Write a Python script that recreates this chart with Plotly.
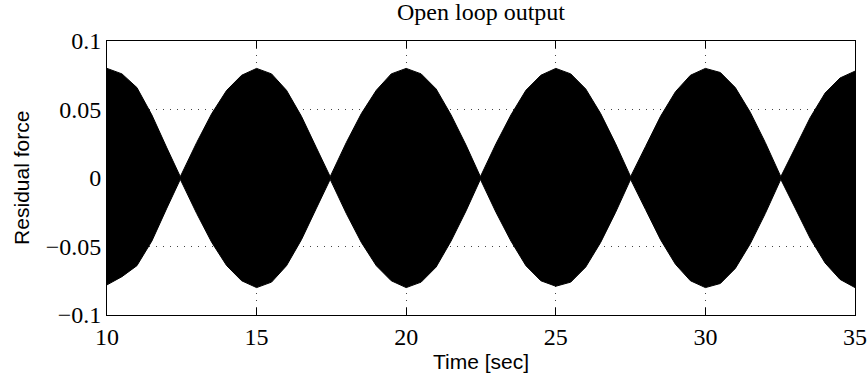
import plotly.graph_objects as go

# Envelope of the (dense) open-loop residual force signal
env_time = [10, 10.5, 11, 11.5, 12, 12.45, 13, 13.5, 14, 14.5,
            15, 15.5, 16, 16.5, 17, 17.46, 18, 18.5, 19, 19.5,
            20, 20.5, 21, 21.5, 22, 22.48, 23, 23.5, 24, 24.5,
            25, 25.5, 26, 26.5, 27, 27.5, 28, 28.5, 29, 29.5,
            30, 30.5, 31, 31.5, 32, 32.52, 33, 33.5, 34, 34.5, 35]
env_upper = [0.080, 0.076, 0.066, 0.046, 0.022, 0.001, 0.026, 0.047, 0.064, 0.075,
             0.080, 0.076, 0.064, 0.045, 0.022, 0.001, 0.026, 0.047, 0.064, 0.076,
             0.080, 0.076, 0.065, 0.046, 0.024, 0.001, 0.025, 0.046, 0.064, 0.075,
             0.080, 0.076, 0.065, 0.047, 0.025, 0.001, 0.023, 0.045, 0.063, 0.075,
             0.080, 0.077, 0.066, 0.048, 0.026, 0.001, 0.022, 0.044, 0.062, 0.073, 0.078]
env_lower = [-0.078, -0.072, -0.064, -0.046, -0.022, -0.001, -0.026, -0.047, -0.064, -0.075,
             -0.080, -0.076, -0.064, -0.045, -0.022, -0.001, -0.026, -0.047, -0.064, -0.075,
             -0.080, -0.076, -0.065, -0.046, -0.024, -0.001, -0.025, -0.046, -0.064, -0.075,
             -0.079, -0.076, -0.065, -0.047, -0.025, -0.001, -0.023, -0.045, -0.063, -0.075,
             -0.080, -0.077, -0.066, -0.048, -0.026, -0.001, -0.022, -0.044, -0.062, -0.074, -0.080]

x_ticks = [10, 15, 20, 25, 30, 35]
y_ticks = [-0.1, -0.05, 0, 0.05, 0.1]

fig = go.Figure()
fig.add_trace(go.Scatter(x=env_time, y=env_upper, mode="lines",
                         line=dict(color="black", width=1), showlegend=False,
                         hoverinfo="skip"))
fig.add_trace(go.Scatter(x=env_time, y=env_lower, mode="lines",
                         line=dict(color="black", width=1), fill="tonexty",
                         fillcolor="black", showlegend=False, hoverinfo="skip"))

serif = "Liberation Serif, Times New Roman, serif"
sans = "Liberation Sans, Arial, sans-serif"

axis_common = dict(showline=True, linecolor="black", linewidth=1, mirror="ticks",
                   ticks="inside", ticklen=7, tickcolor="black", automargin=False,
                   showgrid=True, gridcolor="#444", gridwidth=1, griddash="1px,6px",
                   zeroline=False, tickfont=dict(family=serif, size=24, color="black"))

fig.update_xaxes(range=[10, 35], tickvals=x_ticks, **axis_common)
fig.update_yaxes(range=[-0.1, 0.1], tickvals=y_ticks, **axis_common)

fig.update_layout(
    width=868, height=379,
    margin=dict(l=107, r=13, t=41, b=64, autoexpand=False),
    plot_bgcolor="white", paper_bgcolor="white",
    title=dict(text="Open loop output", font=dict(family=serif, size=24, color="black"),
               x=0.5, xanchor="center", xref="paper", y=1 - 12 / 379, yref="container",
               yanchor="middle"),
    annotations=[
        dict(text="Time [sec]", xref="paper", yref="paper", x=0.5, y=-46 / 274,
             xanchor="center", yanchor="middle", showarrow=False,
             font=dict(family=sans, size=21, color="black")),
        dict(text="Residual force", xref="paper", yref="paper", x=-86 / 747, y=0.5,
             xanchor="center", yanchor="middle", textangle=-90, showarrow=False,
             font=dict(family=sans, size=21, color="black")),
    ],
)

fig.write_html("out.html", config={"displayModeBar": False},
               post_script="document.body.style.margin='0px';")
